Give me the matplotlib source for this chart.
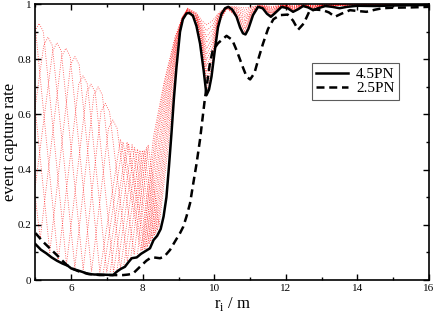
import matplotlib
matplotlib.use("Agg")
import matplotlib.pyplot as plt
from matplotlib.ticker import MultipleLocator, FuncFormatter

plt.rcParams['font.family'] = ['Liberation Serif', 'DejaVu Serif']
plt.rcParams['mathtext.fontset'] = 'custom'
plt.rcParams['mathtext.rm'] = 'Liberation Serif'

# ---------------- data ----------------
pn45_x = [5.0, 5.15, 5.3, 5.45, 5.6, 5.75, 5.9, 6.0, 6.15, 6.3, 6.47, 6.65, 6.8, 7.0, 7.17, 7.27,
          7.38, 7.5, 7.6, 7.69, 7.83, 7.95, 8.05, 8.2, 8.3, 8.4, 8.5, 8.58, 8.66, 8.73, 8.8, 8.87,
          8.94, 9.04, 9.12, 9.22, 9.3, 9.4, 9.5, 9.6, 9.7, 9.78, 9.85, 9.92, 10.0, 10.1, 10.2, 10.3,
          10.39, 10.5, 10.62, 10.72, 10.8, 10.87, 10.95, 11.08, 11.22, 11.35, 11.47, 11.58, 11.7,
          11.88, 12.05, 12.2, 12.35, 12.48, 12.62, 12.76, 12.9, 13.1, 13.3, 13.5, 13.7, 14.0, 14.5,
          15.0, 15.5, 16.0]
pn45_y = [0.13, 0.11, 0.097, 0.082, 0.07, 0.06, 0.052, 0.042, 0.036, 0.03, 0.022, 0.02, 0.02, 0.019,
          0.018, 0.03, 0.04, 0.048, 0.065, 0.079, 0.082, 0.095, 0.103, 0.115, 0.145, 0.16, 0.185,
          0.23, 0.3, 0.41, 0.53, 0.66, 0.77, 0.9, 0.945, 0.966, 0.968, 0.958, 0.92, 0.857, 0.76,
          0.67, 0.69, 0.737, 0.82, 0.915, 0.965, 0.985, 0.99, 0.98, 0.954, 0.915, 0.894, 0.89, 0.91,
          0.96, 0.99, 0.985, 0.965, 0.954, 0.968, 0.99, 0.985, 0.972, 0.982, 0.993, 0.988, 0.978,
          0.985, 0.993, 0.99, 0.985, 0.99, 0.994, 0.993, 0.995, 0.996, 0.997]

pn25_x = [5.0, 5.2, 5.4, 5.6, 5.87, 6.05, 6.24, 6.5, 6.8, 7.1, 7.45, 7.6, 7.73, 7.92, 8.1, 8.2, 8.3,
          8.48, 8.6, 8.76, 8.9, 9.04, 9.13, 9.22, 9.32, 9.41, 9.5, 9.6, 9.73, 9.87, 9.95, 10.1, 10.34,
          10.5, 10.62, 10.8, 10.9, 11.0, 11.12, 11.25, 11.36, 11.5, 11.65, 11.83, 12.05, 12.2, 12.34,
          12.5, 12.67, 12.85, 13.03, 13.2, 13.37, 13.55, 13.79, 14.0, 14.25, 14.5, 14.7, 15.0, 15.5,
          16.0]
pn25_y = [0.17, 0.14, 0.115, 0.09, 0.055, 0.04, 0.03, 0.022, 0.018, 0.018, 0.018, 0.02, 0.024, 0.048,
          0.07, 0.079, 0.082, 0.079, 0.085, 0.109, 0.14, 0.17, 0.193, 0.23, 0.278, 0.35, 0.42, 0.51,
          0.652, 0.78, 0.83, 0.858, 0.885, 0.87, 0.833, 0.77, 0.737, 0.727, 0.75, 0.81, 0.857, 0.91,
          0.945, 0.96, 0.962, 0.94, 0.907, 0.93, 0.978, 0.98, 0.978, 0.97, 0.954, 0.965, 0.978,
          0.975, 0.972, 0.98, 0.985, 0.987, 0.988, 0.99]

# red dotted family: oscillating / rising part of each curve ...
red_x = [
    [3.8, 4.48, 4.6, 4.72, 5.4, 5.98, 6.1, 6.22, 6.8, 7.375, 7.95, 8.3, 8.6, 8.9, 9.1],
    [6.896, 7.446, 7.996, 8.34, 8.62, 8.91, 9.1],
    [4.067, 4.73, 4.85, 4.97, 5.633, 6.21, 6.33, 6.45, 6.992, 7.56, 8.042, 8.38, 8.65, 8.91, 9.1],
    [7.0875, 7.6, 8.0875, 8.41, 8.67, 8.92, 9.1],
    [4.333, 4.98, 5.1, 5.22, 5.867, 6.43, 6.55, 6.67, 7.183, 7.7, 8.133, 8.45, 8.69, 8.92, 9.11],
    [7.279, 7.77, 8.179, 8.49, 8.71, 8.93, 9.11],
    [4.6, 5.23, 5.35, 5.47, 6.1, 6.63, 6.75, 6.87, 7.375, 7.85, 8.225, 8.53, 8.74, 8.94, 9.11],
    [7.471, 7.92, 8.271, 8.57, 8.76, 8.94, 9.11],
    [4.867, 5.48, 5.6, 5.72, 6.333, 6.83, 6.95, 7.07, 7.567, 7.99, 8.317, 8.61, 8.78, 8.95, 9.11],
    [7.6625, 8.04, 8.3625, 8.64, 8.8, 8.95, 9.12],
    [4.35, 5.133, 5.73, 5.85, 5.97, 6.567, 7.04, 7.16, 7.28, 7.758, 8.1, 8.408, 8.68, 8.83, 8.96, 9.12],
    [7.854, 8.15, 8.454, 8.72, 8.85, 8.97, 9.12],
]
red_y = [
    [0.3, 0.97, 1.0, 0.97, 0.10, 0.78, 0.81, 0.78, 0.029, 0.51, 0.105, 0.52, 0.72, 0.88, 0.95],
    [0.028, 0.50, 0.11, 0.52, 0.72, 0.88, 0.95],
    [0.3, 0.95, 0.98, 0.95, 0.07, 0.71, 0.74, 0.71, 0.028, 0.50, 0.113, 0.52, 0.72, 0.87, 0.95],
    [0.029, 0.495, 0.115, 0.52, 0.71, 0.87, 0.95],
    [0.3, 0.90, 0.93, 0.90, 0.057, 0.68, 0.71, 0.68, 0.03, 0.49, 0.12, 0.51, 0.71, 0.87, 0.95],
    [0.036, 0.48, 0.13, 0.51, 0.70, 0.86, 0.95],
    [0.26, 0.85, 0.88, 0.85, 0.046, 0.67, 0.70, 0.67, 0.042, 0.475, 0.14, 0.51, 0.70, 0.86, 0.95],
    [0.055, 0.47, 0.15, 0.51, 0.70, 0.86, 0.95],
    [0.21, 0.83, 0.86, 0.83, 0.038, 0.61, 0.64, 0.61, 0.068, 0.47, 0.16, 0.51, 0.69, 0.85, 0.95],
    [0.08, 0.47, 0.17, 0.50, 0.69, 0.85, 0.95],
    [1.0, 0.15, 0.81, 0.84, 0.81, 0.031, 0.55, 0.58, 0.55, 0.092, 0.48, 0.18, 0.50, 0.68, 0.84, 0.95],
    [0.095, 0.49, 0.195, 0.50, 0.68, 0.84, 0.945],
]
# ... and the converged band part (shared x positions, per-curve values)
band_x = [9.25, 9.5, 9.65, 9.78, 9.95, 10.1, 10.35, 10.6, 10.85, 11.05, 11.25, 11.45, 11.6, 11.75,
          11.9, 12.1, 12.22, 12.35, 12.5, 12.65, 12.78, 12.9, 13.1, 14.0, 16.0]
band_y = [
    [0.985, 0.968, 0.94, 0.925, 0.94, 0.965, 0.992, 0.99, 0.986, 0.99, 0.995, 0.994, 0.991, 0.994, 0.996, 0.996, 0.994, 0.996, 0.997, 0.997, 0.996, 0.997, 0.998, 0.998, 0.999],
    [0.984, 0.965, 0.931, 0.904, 0.924, 0.961, 0.991, 0.987, 0.978, 0.987, 0.995, 0.992, 0.988, 0.992, 0.996, 0.995, 0.992, 0.995, 0.997, 0.996, 0.995, 0.996, 0.998, 0.998, 0.999],
    [0.982, 0.963, 0.923, 0.882, 0.908, 0.958, 0.991, 0.984, 0.97, 0.984, 0.994, 0.991, 0.985, 0.991, 0.995, 0.994, 0.99, 0.994, 0.996, 0.996, 0.993, 0.996, 0.997, 0.998, 0.999],
    [0.981, 0.96, 0.914, 0.861, 0.892, 0.954, 0.99, 0.981, 0.961, 0.98, 0.994, 0.989, 0.982, 0.989, 0.995, 0.993, 0.989, 0.993, 0.996, 0.995, 0.992, 0.995, 0.997, 0.998, 0.999],
    [0.98, 0.958, 0.905, 0.839, 0.876, 0.95, 0.989, 0.978, 0.953, 0.977, 0.993, 0.987, 0.979, 0.987, 0.995, 0.992, 0.987, 0.992, 0.996, 0.994, 0.99, 0.994, 0.997, 0.998, 0.999],
    [0.978, 0.955, 0.897, 0.818, 0.86, 0.947, 0.989, 0.975, 0.945, 0.974, 0.993, 0.986, 0.976, 0.986, 0.994, 0.991, 0.985, 0.991, 0.996, 0.993, 0.989, 0.993, 0.997, 0.998, 0.999],
    [0.977, 0.953, 0.888, 0.797, 0.845, 0.943, 0.988, 0.971, 0.937, 0.971, 0.992, 0.984, 0.972, 0.984, 0.994, 0.989, 0.983, 0.989, 0.995, 0.993, 0.987, 0.993, 0.996, 0.998, 0.999],
    [0.975, 0.95, 0.88, 0.775, 0.829, 0.94, 0.988, 0.968, 0.929, 0.968, 0.992, 0.983, 0.969, 0.983, 0.993, 0.988, 0.981, 0.988, 0.995, 0.992, 0.986, 0.992, 0.996, 0.997, 0.999],
    [0.974, 0.948, 0.871, 0.754, 0.813, 0.936, 0.987, 0.965, 0.921, 0.965, 0.991, 0.981, 0.966, 0.981, 0.993, 0.987, 0.979, 0.987, 0.995, 0.991, 0.984, 0.991, 0.996, 0.997, 0.999],
    [0.973, 0.945, 0.862, 0.733, 0.797, 0.933, 0.986, 0.962, 0.912, 0.961, 0.991, 0.979, 0.963, 0.979, 0.993, 0.986, 0.978, 0.986, 0.995, 0.99, 0.983, 0.99, 0.995, 0.997, 0.998],
    [0.971, 0.943, 0.854, 0.711, 0.781, 0.929, 0.986, 0.959, 0.904, 0.958, 0.99, 0.978, 0.96, 0.978, 0.992, 0.985, 0.976, 0.985, 0.994, 0.99, 0.981, 0.99, 0.995, 0.997, 0.998],
    [0.97, 0.94, 0.845, 0.69, 0.765, 0.925, 0.985, 0.956, 0.896, 0.955, 0.99, 0.976, 0.957, 0.976, 0.992, 0.984, 0.974, 0.984, 0.994, 0.989, 0.98, 0.989, 0.995, 0.997, 0.998],
]

series_labels = ["4.5PN", "2.5PN"]

# ---------------- plot ----------------
fig = plt.figure(figsize=(4.36, 3.15), dpi=100)
ax = fig.add_axes([0.0814, 0.111, 0.9026, 0.876])

for xs, ys, bys in zip(red_x, red_y, band_y):
    ax.plot(xs + band_x, ys + bys, color='#ff0000', lw=0.6, alpha=0.75,
            linestyle=(0, (1.0, 1.8)), zorder=2)

ax.plot(pn45_x, pn45_y, color='black', lw=1.8, zorder=4, label=series_labels[0])
ax.plot(pn25_x, pn25_y, color='black', lw=1.8, zorder=4, dashes=(3.2, 1.9),
        label=series_labels[1])

ax.set_xlim(5, 16)
ax.set_ylim(0, 1)
ax.xaxis.set_major_locator(MultipleLocator(2))
ax.xaxis.set_minor_locator(MultipleLocator(1))
ax.yaxis.set_major_locator(MultipleLocator(0.2))
ax.yaxis.set_minor_locator(MultipleLocator(0.1))
fmt = FuncFormatter(lambda v, p: '%g' % round(v, 3))
ax.xaxis.set_major_formatter(fmt)
ax.yaxis.set_major_formatter(fmt)
ax.tick_params(which='both', direction='in', top=True, right=True, labelsize=8,
               width=1.0, colors='black')
ax.tick_params(which='major', length=4.5, pad=3)
ax.tick_params(which='minor', length=2.5)
for s in ax.spines.values():
    s.set_linewidth(1.2)

ax.set_xlabel(r'r$_{\mathregular{i}}$ / m', fontsize=12, labelpad=1)
ax.set_ylabel('event capture rate', fontsize=12)
ax.yaxis.label.set_verticalalignment('baseline')
ax.yaxis.set_label_coords(-0.055, 0.5)

leg = ax.legend(loc='upper left', bbox_to_anchor=(0.702, 0.786), borderaxespad=0,
                fontsize=11, frameon=True, fancybox=False, handlelength=2.1,
                handletextpad=0.5, labelspacing=0.0, borderpad=0.3)
leg.get_frame().set_edgecolor('#333333')
leg.get_frame().set_linewidth(0.8)

fig.savefig('out.png', dpi=100)
